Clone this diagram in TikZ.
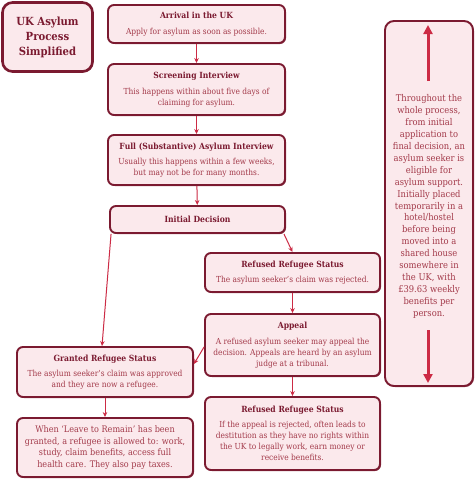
\documentclass[tikz,border=0pt]{standalone}
\usepackage{fontspec}
\setmainfont{DejaVu Serif}[FakeStretch=0.9]
\usetikzlibrary{arrows.meta,calc,shadows}
\definecolor{bord}{HTML}{7B1A30}
\definecolor{boxfill}{HTML}{FBE9EC}
\definecolor{ttl}{HTML}{7B1A30}
\definecolor{bodytxt}{HTML}{A33A4A}
\definecolor{arr}{HTML}{CC2B45}
\tikzset{
  flowbox/.style={draw=bord,fill=boxfill,line width=1.9pt,rounded corners=6pt,
    align=center,inner sep=1pt,minimum width=#1,text=bodytxt,
    drop shadow={shadow xshift=1pt,shadow yshift=-1pt,fill=bord,opacity=0.8},
    font=\fontsize{8.3}{11}\selectfont},
  flowbox/.default=177pt,
  conn/.style={draw=arr,line width=1pt,-{Stealth[length=5pt,width=4.5pt]}},
  bigarr/.style={draw=arr,line width=3pt,-{Triangle[length=9pt,width=9pt]}}
}
\newcommand{\ttlx}[1]{{\color{ttl}\bfseries\fontsize{8.5}{11}\selectfont #1}}
\begin{document}
\begin{tikzpicture}[x=1pt,y=-1pt]
\useasboundingbox[fill=white] (0,0) rectangle (474,479);
% title
\node[flowbox=90pt,minimum height=69pt,rounded corners=10pt,line width=2.6pt,text=ttl,
  font=\bfseries\fontsize{11.2}{15}\selectfont] (title) at (47.5,37) {UK Asylum\\Process\\Simplified};
% main column
\node[flowbox,minimum height=38pt] (arrival) at (196.5,24)
  {\ttlx{Arrival in the UK}\\[4.5pt]Apply for asylum as soon as possible.};
\node[flowbox,minimum height=51pt] (screen) at (196.5,89.5)
  {\ttlx{Screening Interview}\\[4.5pt]This happens within about five days of\\claiming for asylum.};
\node[flowbox,minimum height=50pt] (full) at (196.5,160)
  {\ttlx{Full (Substantive) Asylum Interview}\\[4.5pt]Usually this happens within a few weeks,\\but may not be for many months.};
\node[flowbox=175pt,minimum height=27pt] (init) at (197.5,219.5)
  {\ttlx{Initial Decision}};
% refused branch
\node[flowbox=175pt,minimum height=39pt] (ref1) at (292.5,272.5)
  {\ttlx{Refused Refugee Status}\\[4.5pt]The asylum seeker's claim was rejected.};
\node[flowbox=175pt,minimum height=62pt] (appeal) at (292.5,345)
  {\ttlx{Appeal}\\[4.5pt]A refused asylum seeker may appeal the\\decision. Appeals are heard by an asylum\\judge at a tribunal.};
\node[flowbox=175pt,minimum height=73pt] (ref2) at (292.5,433.5)
  {\ttlx{Refused Refugee Status}\\[4.5pt]If the appeal is rejected, often leads to\\destitution as they have no rights within\\the UK to legally work, earn money or\\receive benefits.};
% granted branch
\node[flowbox=176pt,minimum height=50pt] (granted) at (105,372)
  {\ttlx{Granted Refugee Status}\\[4.5pt]The asylum seeker's claim was approved\\and they are now a refugee.};
\node[flowbox=176pt,minimum height=59pt,font=\fontsize{9}{11.5}\selectfont] (leave) at (105,447.5)
  {When `Leave to Remain' has been\\granted, a refugee is allowed to: work,\\study, claim benefits, access full\\health care. They also pay taxes.};
% right side box
\node[flowbox=88pt,minimum height=365pt,rounded corners=9pt,inner sep=0pt,
  font=\fontsize{9.3}{11.9}\selectfont] (support) at (429,203.5)
  {\rule{0pt}{13pt}Throughout the\\whole process,\\from initial\\application to\\final decision, an\\asylum seeker is\\eligible for\\asylum support.\\Initially placed\\temporarily in a\\hotel/hostel\\before being\\moved into a\\shared house\\somewhere in\\the UK, with\\\pounds 39.63 weekly\\benefits per\\person.};
\coordinate (upS) at (428,81);
\coordinate (upE) at (428,25);
\coordinate (dnS) at (428,330);
\coordinate (dnE) at (428,383);
\draw[bigarr] (upS) -- (upE);
\draw[bigarr] (dnS) -- (dnE);
% connectors
\draw[conn] (arrival) -- (screen);
\draw[conn] (screen) -- (full);
\draw[conn] (full) -- (init);
\draw[conn] ([xshift=2pt]init.south west) -- ([xshift=-3pt]granted.north);
\draw[conn] ([xshift=-2pt]init.south east) -- (ref1.north);
\draw[conn] (ref1) -- (appeal);
\draw[conn] (appeal) -- (ref2);
\draw[conn] ([yshift=-2pt]appeal.west) -- ([yshift=8pt]granted.east);
\draw[conn] (granted) -- (leave);
\end{tikzpicture}
\end{document}
